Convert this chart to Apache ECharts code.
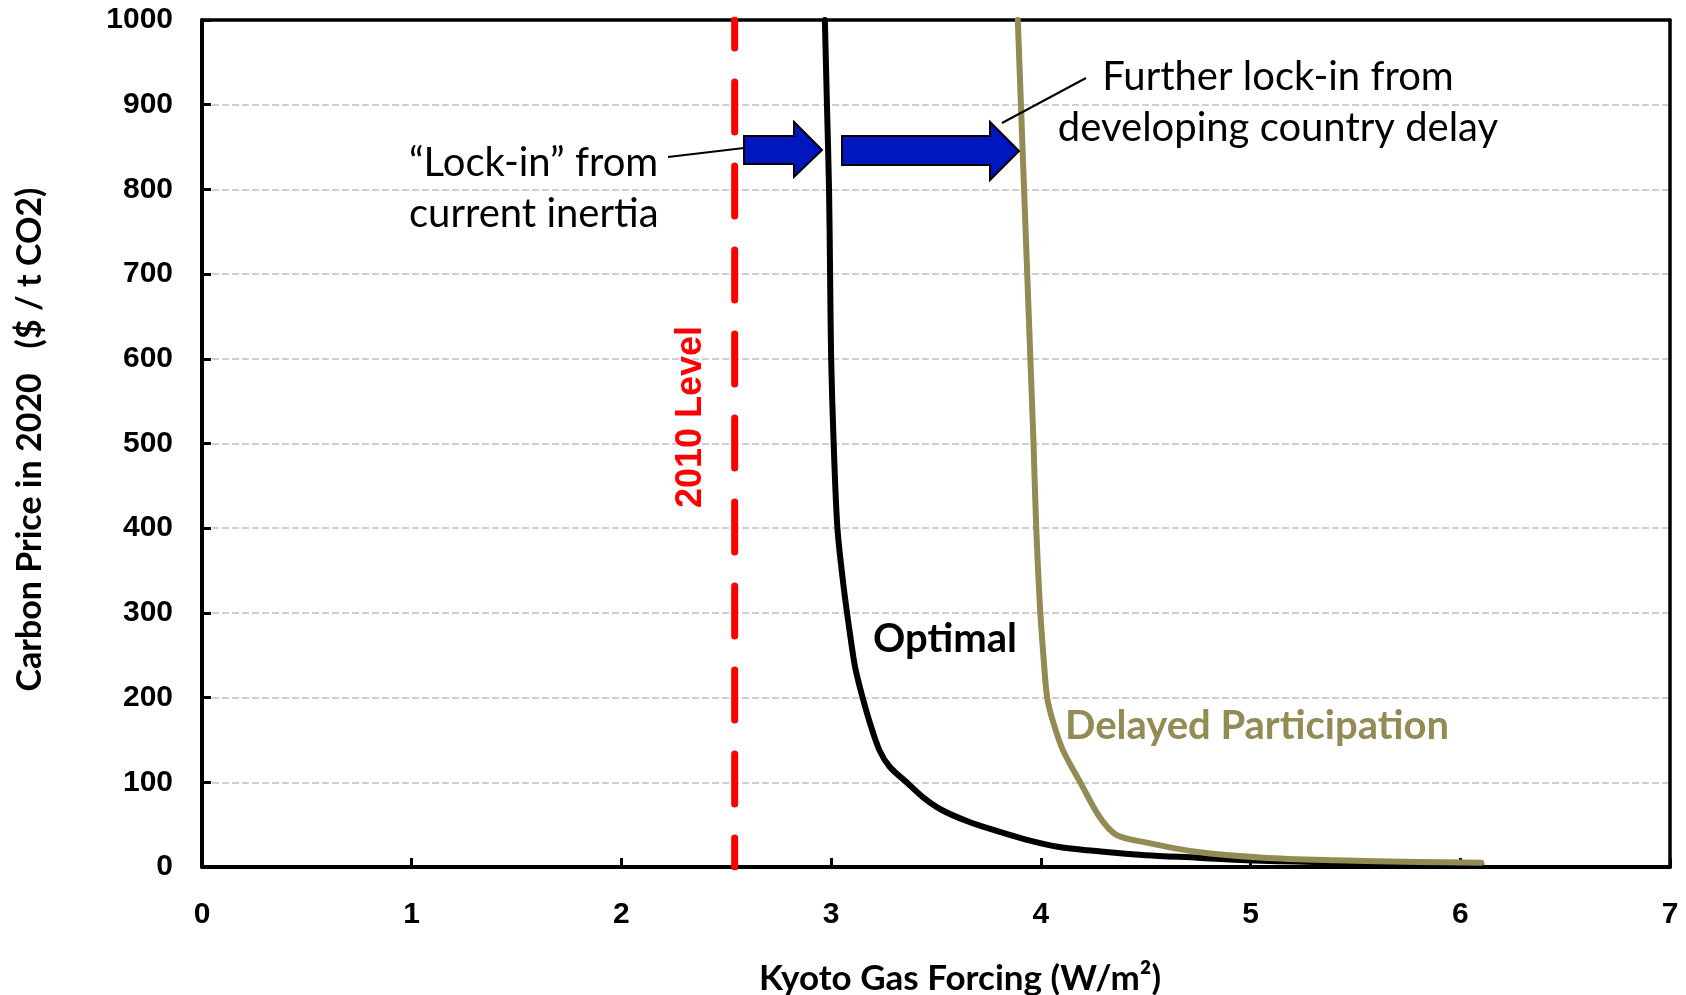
<!DOCTYPE html>
<html>
<head>
<meta charset="utf-8">
<script src="https://cdn.jsdelivr.net/npm/echarts@6/dist/echarts.min.js"></script>
<style>
html,body{margin:0;padding:0;background:#fff;}
#chart{width:1686px;height:995px;}
</style>
</head>
<body>
<div id="chart"></div>
<script>
// ---- data ----
const optimalForcing = [2.97, 2.98, 2.99, 2.995, 3.0, 3.012, 3.03, 3.06, 3.09, 3.115, 3.15, 3.185, 3.23, 3.28, 3.36, 3.44, 3.53, 3.65, 3.77, 3.92, 4.08, 4.3, 4.5, 4.75, 4.98, 5.3, 5.7, 6.1];
const optimalPrice   = [1000, 900, 800, 700, 600, 500, 400, 330, 275, 235, 200, 170, 138, 118, 100, 82, 67, 54, 44, 33, 24, 18, 14, 11, 8, 6, 5, 4];
const delayedForcing = [3.89, 3.905, 3.92, 3.935, 3.95, 3.965, 3.978, 3.995, 4.012, 4.03, 4.06, 4.105, 4.19, 4.28, 4.36, 4.5, 4.74, 5.06, 5.4, 5.8, 6.1];
const delayedPrice   = [1000, 900, 800, 700, 600, 500, 400, 310, 250, 200, 170, 138, 99, 59, 38, 29, 18, 11, 8, 6, 5];
const level2010 = 2.54;
const levelRange = [1000, 0];
const xLabel = 'Kyoto Gas Forcing (W/m²)';
const yLabel = 'Carbon Price in 2020   ($ / t CO2)';

const zip = (xs, ys) => xs.map((x, i) => [x, ys[i]]);

const chart = echarts.init(document.getElementById('chart'), null, {renderer: 'canvas'});
const calibri = 'Lato, "Open Sans", sans-serif';
const arial = '"Liberation Sans", Arial, sans-serif';
const olive = '#948A54';
const blue = '#0016BE';

const frameAxis = {
  show: true,
  axisLine: {show: true, onZero: false, lineStyle: {color: '#000', width: 3.5}},
  axisTick: {show: false}, axisLabel: {show: false}, splitLine: {show: false}
};

const option = {
  backgroundColor: '#fff',
  animation: false,
  grid: {left: 202, top: 20, right: 16, bottom: 128, show: false, containLabel: false, outerBoundsMode: 'none'},
  xAxis: [{
    type: 'value', min: 0, max: 7, interval: 1, position: 'bottom',
    name: xLabel, nameLocation: 'middle', nameGap: 94,
    nameTextStyle: {fontFamily: calibri, fontWeight: 'bold', fontSize: 35, color: '#000', padding: [0, 0, 0, 48]},
    axisLine: {show: true, onZero: false, lineStyle: {color: '#000', width: 4}},
    axisTick: {show: true, inside: true, length: 9, lineStyle: {color: '#000', width: 3}},
    axisLabel: {color: '#000', fontFamily: arial, fontWeight: 'bold', fontSize: 30, margin: 33},
    splitLine: {show: false}
  }, Object.assign({type: 'value', min: 0, max: 7, position: 'top'}, frameAxis)],
  yAxis: [{
    type: 'value', min: 0, max: 1000, interval: 100, position: 'left',
    name: yLabel, nameLocation: 'middle', nameGap: 155, nameRotate: 90,
    nameTextStyle: {fontFamily: calibri, fontWeight: 'bold', fontSize: 34, color: '#000', padding: [0, 0, 0, 8]},
    axisLine: {show: true, onZero: false, lineStyle: {color: '#000', width: 4}},
    axisTick: {show: true, inside: true, length: 9, lineStyle: {color: '#000', width: 3}},
    axisLabel: {color: '#000', fontFamily: arial, fontWeight: 'bold', fontSize: 30, margin: 29,
      formatter: v => String(v)},
    splitLine: {show: true, lineStyle: {color: '#C0C0C0', width: 1.5, type: [7, 3]}}
  }, Object.assign({type: 'value', min: 0, max: 1000, position: 'right'}, frameAxis)],
  series: [
    {
      name: '2010 Level', type: 'line', symbol: 'none', silent: true,
      data: levelRange.map(v => [level2010, v]),
      lineStyle: {color: '#FF0000', width: 7, type: [50, 34], dashOffset: 22, cap: 'round'},
      z: 3
    },
    {
      name: 'Optimal', type: 'line', symbol: 'none', smooth: 0.3,
      data: zip(optimalForcing, optimalPrice),
      lineStyle: {color: '#000', width: 6, cap: 'round', join: 'round'},
      z: 4
    },
    {
      name: 'Delayed Participation', type: 'line', symbol: 'none', smooth: 0.3,
      data: zip(delayedForcing, delayedPrice),
      lineStyle: {color: olive, width: 6, cap: 'round', join: 'round'},
      z: 5
    }
  ],
  graphic: [
    // leader lines
    {type: 'line', shape: {x1: 668, y1: 157, x2: 744, y2: 148}, style: {stroke: '#000', lineWidth: 2}, z: 10},
    {type: 'line', shape: {x1: 1086, y1: 78, x2: 1002, y2: 123}, style: {stroke: '#000', lineWidth: 2}, z: 10},
    // block arrows
    {type: 'polygon', shape: {points: [[744,136],[794,136],[794,122],[822,150],[794,177],[794,164],[744,164]]},
      style: {fill: blue, stroke: '#000', lineWidth: 2}, z: 10},
    {type: 'polygon', shape: {points: [[842,136],[990,136],[990,122],[1019,151],[990,180],[990,165],[842,165]]},
      style: {fill: blue, stroke: '#000', lineWidth: 2}, z: 10},
    // texts
    {type: 'text', x: 409, y: 189, z: 10, style: {text: '“Lock-in” from\ncurrent inertia', fill: '#000',
      fontFamily: calibri, fontSize: 40, lineHeight: 51, align: 'left', verticalAlign: 'middle'}},
    {type: 'text', x: 1278, y: 103, z: 10, style: {text: 'Further lock-in from\ndeveloping country delay', fill: '#000',
      fontFamily: calibri, fontSize: 40, lineHeight: 51, align: 'center', verticalAlign: 'middle'}},
    {type: 'text', x: 691, y: 417, rotation: Math.PI / 2, z: 10, style: {text: '2010 Level', fill: '#FF0000',
      fontFamily: arial, fontWeight: 'bold', fontSize: 36, align: 'center', verticalAlign: 'middle'}},
    {type: 'text', x: 873, y: 639, z: 10, style: {text: 'Optimal', fill: '#000',
      fontFamily: calibri, fontWeight: 'bold', fontSize: 40, align: 'left', verticalAlign: 'middle'}},
    {type: 'text', x: 1065, y: 726, z: 10, style: {text: 'Delayed Participation', fill: olive,
      fontFamily: calibri, fontWeight: 'bold', fontSize: 40, align: 'left', verticalAlign: 'middle'}}
  ]
};
chart.setOption(option);
</script>
</body>
</html>
